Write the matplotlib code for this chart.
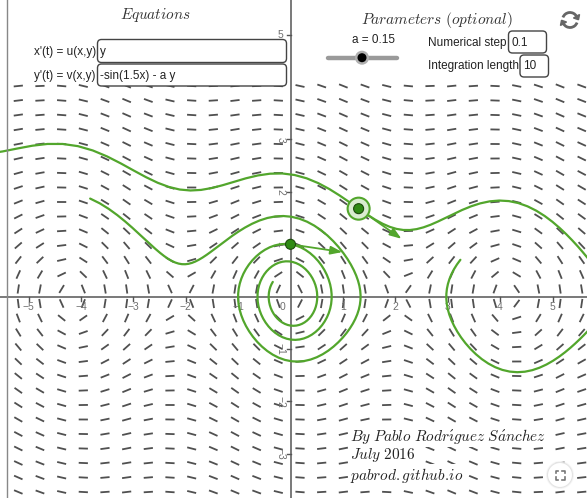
import numpy as np
import matplotlib.pyplot as plt
from matplotlib.collections import LineCollection
from matplotlib.patches import FancyBboxPatch, Circle, Arc, Polygon

plt.rcParams['mathtext.fontset'] = 'cm'

# system: x' = y, y' = -sin(1.5 x) - a y
a = 0.15
num_step = 0.1
int_length = 10

# initial conditions of the two orbits
start_big = (1.30, 1.68)
start_small = (0.0, 1.0)

x_ticks = [-5, -4, -3, -2, -1, 1, 2, 3, 4, 5]
y_ticks = [-3, -2, -1, 1, 2, 3, 5]

GREEN = '#52a62c'
DOT = '#2f8a14'
GRAY = '#555555'

# screen mapping (pixels per unit, origin position)
W, H = 587, 498
SCALE = 52.4
OX, OY = 290.5, 296.7


def u(x, y):
    return y


def v(x, y):
    return -np.sin(1.5 * x) - a * y


def rk4(x0, y0, h, n):
    xs, ys = [x0], [y0]
    x, y = x0, y0
    for _ in range(n):
        k1x, k1y = u(x, y), v(x, y)
        k2x, k2y = u(x + h/2*k1x, y + h/2*k1y), v(x + h/2*k1x, y + h/2*k1y)
        k3x, k3y = u(x + h/2*k2x, y + h/2*k2y), v(x + h/2*k2x, y + h/2*k2y)
        k4x, k4y = u(x + h*k3x, y + h*k3y), v(x + h*k3x, y + h*k3y)
        x = x + h/6*(k1x + 2*k2x + 2*k3x + k4x)
        y = y + h/6*(k1y + 2*k2y + 2*k3y + k4y)
        xs.append(x)
        ys.append(y)
    return np.array(xs), np.array(ys)


def orbit(p):
    n = int(round(int_length / num_step))
    xb, yb = rk4(p[0], p[1], -num_step, n)
    xf, yf = rk4(p[0], p[1], num_step, n)
    return np.concatenate([xb[::-1], xf[1:]]), np.concatenate([yb[::-1], yf[1:]])


fig = plt.figure(figsize=(W / 100, H / 100), dpi=100)
ax = fig.add_axes([0, 0, 1, 1])
ax.set_xlim(-OX / SCALE, (W - OX) / SCALE)
ax.set_ylim(-(H - OY) / SCALE, OY / SCALE)
ax.set_aspect('auto')
ax.axis('off')

# slope field
gx = (18.3 + 21.67 * np.arange(27) - OX) / SCALE
gy = (OY - (86 + 14.5 * np.arange(29))) / SCALE
X, Y = np.meshgrid(gx, gy)
U, V = u(X, Y), v(X, Y)
N = np.hypot(U, V)
half = 4.6 / SCALE
dx, dy = half * U / N, half * V / N
segs = np.stack([np.stack([X - dx, Y - dy], -1), np.stack([X + dx, Y + dy], -1)], -2).reshape(-1, 2, 2)
ax.add_collection(LineCollection(segs, colors='#505050', linewidths=1.3, zorder=1))

# axes with ticks
ax.axhline(0, color=GRAY, lw=1.1, zorder=2)
ax.axvline(0, color=GRAY, lw=1.1, zorder=2)
tk = 4 / SCALE
for t in x_ticks:
    ax.plot([t, t], [0, -tk], color=GRAY, lw=1, zorder=2)
    ax.text(t, -10 / SCALE, str(t).replace('-', '\u2212'), ha='center', va='center',
            fontsize=7.5, color='#707070', family='Liberation Sans', zorder=2)
ax.text(-8 / SCALE, -10 / SCALE, '0', ha='center', va='center',
        fontsize=7.5, color='#707070', family='Liberation Sans', zorder=2)
for t in y_ticks:
    ax.plot([-tk, 0], [t, t], color=GRAY, lw=1, zorder=2)
    ax.text(-10 / SCALE, t, str(t).replace('-', '\u2212'), ha='center', va='center',
            fontsize=7.5, color='#707070', family='Liberation Sans', zorder=2,
            rotation=0 if t == 5 else -90)

# orbits
for p in (start_big, start_small):
    ox, oy = orbit(p)
    ax.plot(ox, oy, color=GREEN, lw=1.6, zorder=3, solid_capstyle='round')

# unit velocity vectors at the initial points
for p in (start_big, start_small):
    du, dv = u(*p), v(*p)
    nn = np.hypot(du, dv)
    ax.annotate('', xy=(p[0] + du / nn, p[1] + dv / nn), xytext=p, zorder=4,
                arrowprops=dict(arrowstyle='-|>,head_length=0.7,head_width=0.25',
                                color=GREEN, lw=1.3, shrinkA=0, shrinkB=0))

ax.add_patch(Circle(start_big, 11 / SCALE, facecolor='#d9ecd0', edgecolor=GREEN, lw=1.5, zorder=5))
ax.add_patch(Circle(start_big, 5 / SCALE, facecolor=DOT, edgecolor='#1c4a0c', lw=0.8, zorder=6))
ax.add_patch(Circle(start_small, 5 / SCALE, facecolor=DOT, edgecolor='#1c4a0c', lw=0.8, zorder=6))

# interface layer in pixel coordinates
ui = fig.add_axes([0, 0, 1, 1], zorder=5)
ui.set_xlim(0, W)
ui.set_ylim(H, 0)
ui.axis('off')
ui.patch.set_alpha(0)

ui.plot([7, 7], [0, H], color='#888888', lw=1)


def box(x0, y0, x1, y1):
    ui.add_patch(FancyBboxPatch((x0, y0), x1 - x0, y1 - y0, boxstyle='round,pad=0,rounding_size=4',
                                facecolor='white', edgecolor='#444444', lw=1.0))


sans = dict(family='Liberation Sans', fontsize=8.5, color='#222222', va='center')

ui.text(155, 15, r'$Equations$', ha='center', va='center', fontsize=11, color='#333333')
box(97.5, 39.5, 286.5, 62.5)
box(97.5, 64, 286.5, 86)
ui.text(96, 51.5, "x'(t) = u(x,y)", ha='right', **sans)
ui.text(96, 76, "y'(t) = v(x,y)", ha='right', **sans)
ui.text(100, 51.5, 'y', ha='left', **sans)
ui.text(100, 76, '-sin(1.5x) - a y', ha='left', **sans)

ui.text(437, 20, r'$Parameters\ (optional)$', ha='center', va='center', fontsize=11, color='#333333')
ui.text(373, 39.5, f'a = {a}', ha='center', **sans)
ui.plot([328, 397], [57.7, 57.7], color='#9a9a9a', lw=3.2, solid_capstyle='round', zorder=2)
ui.add_patch(Circle((362, 57.7), 7, facecolor='#b0b0b0', edgecolor='none', zorder=3))
ui.add_patch(Circle((362, 57.7), 4.5, facecolor='black', edgecolor='none', zorder=4))

ui.text(507, 43, 'Numerical step', ha='right', **sans)
box(508.5, 31, 546.5, 53)
ui.text(511, 43, f'{num_step}', ha='left', **sans)
ui.text(519, 65.5, 'Integration length', ha='right', **sans)
box(520, 55, 548.5, 77)
ui.text(523, 65.5, f'{int_length}', ha='left', **sans)

# refresh icon
cx, cy, r = 570, 20, 7.5
ui.add_patch(Arc((cx, cy), 2 * r, 2 * r, theta1=200, theta2=330, color='#666666', lw=2))
ui.add_patch(Arc((cx, cy), 2 * r, 2 * r, theta1=20, theta2=150, color='#666666', lw=2))
for ang in (330, 150):
    t = np.radians(ang)
    px, py = cx + r * np.cos(t), cy + r * np.sin(t)
    tx, ty = -np.sin(t), np.cos(t)
    nx, ny = np.cos(t), np.sin(t)
    ui.add_patch(Polygon([(px + 3.5 * nx, py + 3.5 * ny), (px - 3.5 * nx, py - 3.5 * ny),
                          (px + 4 * tx, py + 4 * ty)], closed=True, color='#666666'))

# credits
cred = dict(ha='left', va='center', fontsize=11, color='#222222',
            bbox=dict(facecolor='white', edgecolor='none', pad=1))
ui.text(350, 436, r'$By\ Pablo\ Rodr\acute{\imath}guez\ S\acute{a}nchez$', **cred)
ui.text(350, 455, r'$July\ 2016$', **cred)
ui.text(350, 475, r'$pabrod.github.\!io$', **cred)

# fullscreen button
ui.add_patch(Circle((560, 475), 14, facecolor='#f2f2f2', edgecolor='none', alpha=0.7))
ui.add_patch(Circle((560, 475), 12.5, facecolor='white', edgecolor='#e4e4e4', lw=0.8))
for sx in (-1, 1):
    for sy in (-1, 1):
        x0, y0 = 560 + 4.5 * sx, 475 + 4.5 * sy
        ui.plot([x0 - 2.5 * sx, x0, x0], [y0, y0, y0 - 2.5 * sy], color='#777777', lw=1.2)

fig.savefig('out.png', dpi=100)
